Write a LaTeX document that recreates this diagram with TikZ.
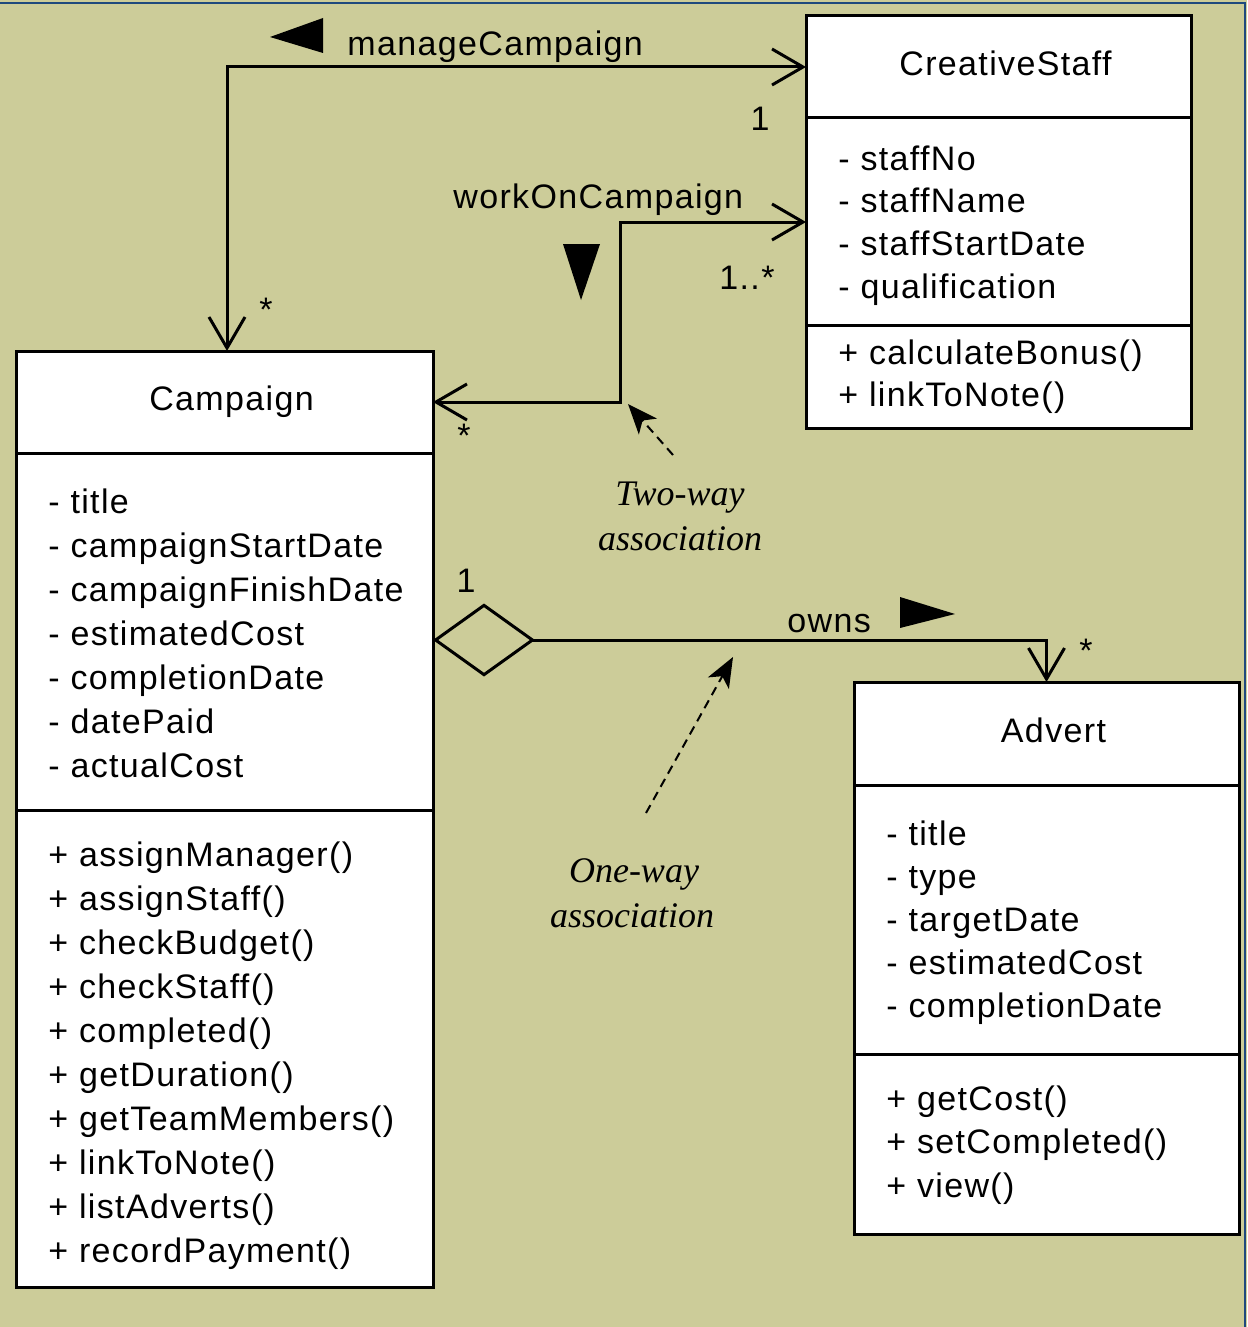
\documentclass[tikz,border=0pt]{standalone}
\usepackage{fontspec}
\setmainfont{Liberation Sans}
\newfontfamily\umlfont[LetterSpace=4]{Liberation Sans}
\newfontfamily\notefont{Liberation Serif}
\usetikzlibrary{arrows.meta,calc}
\definecolor{canvas}{HTML}{CCCC99}
\definecolor{frameblue}{HTML}{1F497D}
\begin{document}
\begin{tikzpicture}[x=0.5pt,y=-0.5pt,
  compartment/.style={draw=black, fill=white, line width=1.5pt, inner sep=0pt, outer sep=0pt, anchor=north west},
  classname/.style={font=\umlfont\fontsize{17pt}{20pt}\selectfont, text height=0.85em, text depth=0pt,
    execute at begin node=\hspace*{7pt}},
  member/.style={anchor=base west, inner sep=0pt, font=\umlfont\fontsize{17pt}{20pt}\selectfont},
  mult/.style={anchor=base, inner sep=0pt, font=\umlfont\fontsize{17pt}{20pt}\selectfont},
  note/.style={anchor=base, inner sep=0pt, font=\notefont\itshape\fontsize{18pt}{22pt}\selectfont},
  barb/.tip={Straight Barb[length=15.5pt,width=18pt]},
  assoc/.style={line width=1.5pt, barb-barb},
  owning/.style={line width=1.5pt, {Diamond[length=51pt,width=36.5pt,fill=canvas]}-barb},
  pointer/.style={line width=1pt, dash pattern=on 4.5pt off 3pt, -{Stealth[length=15pt,width=12pt,inset=4pt]}},
  dirmark/.style={fill=black}
]
% canvas and frame
\fill[canvas] (0,0) rectangle (1247,1327);
\useasboundingbox (0,0) rectangle (1247,1327);
\draw[frameblue, line width=1pt] (0,3.5) -- (1244.5,3.5) -- (1244.5,1327);

% CreativeStaff
\node[compartment, classname, minimum width=192.5pt, minimum height=51pt] (staff-name) at (806,16) {CreativeStaff};
\node[compartment, minimum width=192.5pt, minimum height=103.5pt] (staff-attr) at (staff-name.south west) {};
\node[compartment, minimum width=192.5pt, minimum height=51.5pt] (staff-ops) at (staff-attr.south west) {};
\foreach \m [count=\i from 0] in {- staffNo, - staffName, - staffStartDate, - qualification}
  \node[member] (staff-a\i) at ($(staff-attr.north west)+(32,{52+42.7*\i})$) {\m};
\foreach \m [count=\i from 0] in {+ calculateBonus(), + linkToNote()}
  \node[member] (staff-o\i) at ($(staff-ops.north west)+(32,{39+42*\i})$) {\m};

% Campaign
\node[compartment, classname, minimum width=208.5pt, minimum height=51pt] (camp-name) at (16,351) {Campaign};
\node[compartment, minimum width=208.5pt, minimum height=178.5pt] (camp-attr) at (camp-name.south west) {};
\node[compartment, minimum width=208.5pt, minimum height=238.5pt] (camp-ops) at (camp-attr.south west) {};
\foreach \m [count=\i from 0] in {- title, - campaignStartDate, - campaignFinishDate, - estimatedCost, - completionDate, - datePaid, - actualCost}
  \node[member] (camp-a\i) at ($(camp-attr.north west)+(32,{60+44*\i})$) {\m};
\foreach \m [count=\i from 0] in {+ assignManager(), + assignStaff(), + checkBudget(), + checkStaff(), + completed(), + getDuration(), + getTeamMembers(), + linkToNote(), + listAdverts(), + recordPayment()}
  \node[member] (camp-o\i) at ($(camp-ops.north west)+(32,{56+44*\i})$) {\m};

% Advert
\node[compartment, classname, minimum width=192.5pt, minimum height=51.5pt] (adv-name) at (854,682) {Advert};
\node[compartment, minimum width=192.5pt, minimum height=134.5pt] (adv-attr) at (adv-name.south west) {};
\node[compartment, minimum width=192.5pt, minimum height=90pt] (adv-ops) at (adv-attr.south west) {};
\foreach \m [count=\i from 0] in {- title, - type, - targetDate, - estimatedCost, - completionDate}
  \node[member] (adv-a\i) at ($(adv-attr.north west)+(32,{60+43*\i})$) {\m};
\foreach \m [count=\i from 0] in {+ getCost(), + setCompleted(), + view()}
  \node[member] (adv-o\i) at ($(adv-ops.north west)+(32,{56+43.5*\i})$) {\m};

% manageCampaign
\draw[assoc] ($(camp-name.north west)+(211,0)$) |- (staff-name.west);
\node[member] (manage-name) at (347,56) {manageCampaign};
\fill[dirmark] (270,37) -- (323,18) -- (323,53) -- cycle;
\node[mult] (manage-staff-mult) at (760,131) {1};
\node[mult] (manage-camp-mult) at (266,321) {*};

% workOnCampaign
\coordinate (work-bend) at ($(camp-name.east)+(187,0)$);
\draw[assoc] (camp-name.east) -- (work-bend) |- ($(staff-attr.north west)+(0,104)$);
\node[member] (work-name) at (453,208) {workOnCampaign};
\fill[dirmark] (563,244) -- (600,244) -- (581,300) -- cycle;
\node[mult, anchor=base west] (work-staff-mult) at (719,289) {1..*};
\node[mult] (work-camp-mult) at (464,447) {*};

% owns
\draw[owning] ($(camp-attr.north east)+(0,187)$) -| (adv-name.north);
\node[member] (owns-name) at (787,632) {owns};
\fill[dirmark] (900,597) -- (900,628) -- (955,614) -- cycle;
\node[mult] (owns-camp-mult) at (466,592) {1};
\node[mult] (owns-adv-mult) at (1086,662) {*};

% explanatory notes
\coordinate (two-tail) at (673,455);
\draw[pointer] (two-tail) -- ($(work-bend)+(8,2)$);
\node[note] (two-l1) at (680,505) {Two-way};
\node[note] (two-l2) at (680,550) {association};

\coordinate (one-tail) at (646,813);
\coordinate (owns-ref) at ($(camp-attr.north east)+(300,204)$);
\draw[pointer] (one-tail) -- (owns-ref);
\node[note] (one-l1) at (634,882) {One-way};
\node[note] (one-l2) at (632,927) {association};
\end{tikzpicture}
\end{document}
